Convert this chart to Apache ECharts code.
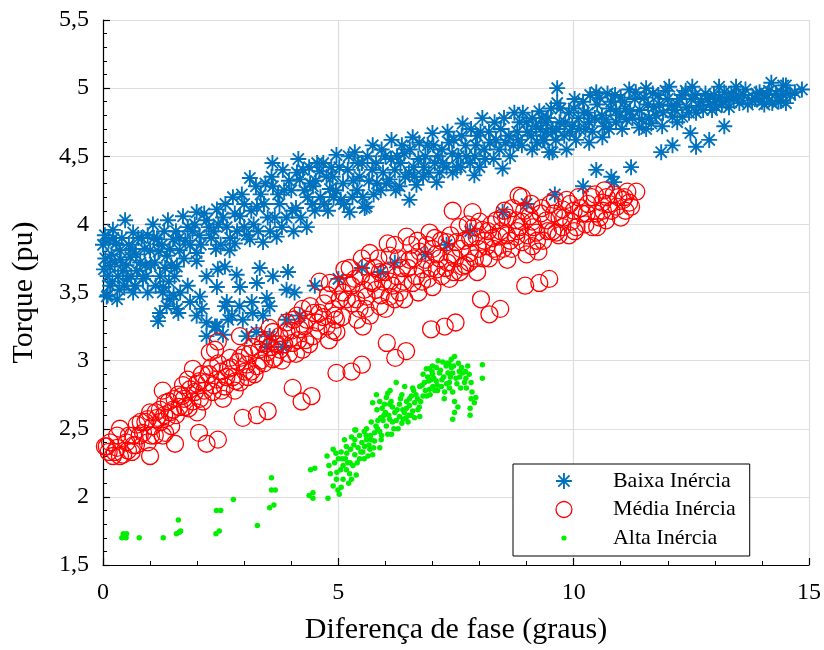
<!DOCTYPE html>
<html>
<head>
<meta charset="utf-8">
<script src="https://cdn.jsdelivr.net/npm/echarts@6/dist/echarts.min.js"></script>
<style>
html,body{margin:0;padding:0;background:#fff;}
#chart{width:824px;height:650px;}
</style>
</head>
<body>
<div id="chart"></div>
<script>
var seriesNames = ['Baixa Inércia', 'Média Inércia', 'Alta Inércia'];
var xAxisTitle = 'Diferença de fase (graus)';
var yAxisTitle = 'Torque (pu)';
var xTicks = [0, 5, 10, 15];
var yTicks = [1.5, 2, 2.5, 3, 3.5, 4, 4.5, 5, 5.5];

var baixaInercia = [
[0.02,3.67],[0.04,3.92],[0.1,3.48],[0.08,3.47],[0.15,3.69],[0.21,3.96],[0.3,3.45],[0.36,3.81],[0.47,4.03],[0.64,3.94],[0.64,3.5],[0.79,3.72],[0.85,3.6],[1.0,3.81],[1.06,4.0],[1.15,3.89],[1.21,3.62],[1.36,3.77],[1.38,4.03],[1.49,3.89],[1.57,3.69],[1.63,3.81],[1.7,4.06],[1.8,3.98],[1.99,3.79],[1.99,4.09],[1.99,3.73],
[0.05,3.75],[0.12,3.88],[0.2,3.58],[0.25,3.72],[0.32,3.62],[0.4,3.9],[0.45,3.55],[0.5,3.7],[0.55,3.85],[0.6,3.62],[0.7,3.78],[0.75,3.9],[0.9,3.7],[0.95,3.92],[1.1,3.72],[1.25,3.85],[1.3,3.95],[1.45,3.7],[1.55,3.95],[1.75,3.88],[1.9,3.95],[0.0,3.85],[0.18,3.78],[0.28,3.86],[0.42,3.66],[0.58,3.76],[0.68,3.55],[0.88,3.82],[1.12,3.55],[1.4,3.58],[0.35,3.52],[0.95,3.5],
[0.1,3.62],[0.22,3.9],[0.38,3.74],[0.52,3.6],[0.62,3.82],[0.72,3.66],[0.82,3.9],[0.92,3.62],[1.02,3.7],[1.08,3.9],[1.18,3.8],[1.32,3.68],[1.42,3.82],[1.52,3.62],[1.62,3.9],[1.72,3.75],[1.85,3.85],[1.95,4.0],[2.08,3.85],[0.15,3.55],
[1.17,3.29],[1.21,3.35],[1.6,3.35],[1.99,3.33],[1.64,3.5],[1.28,3.54],[2.2,3.18],[2.38,3.25],[2.55,3.19],[2.66,3.3],[2.97,3.3],[3.05,3.18],[3.4,3.33],[3.26,3.21],[3.54,3.18],[3.9,3.3],[4.18,3.33],[3.82,3.1],[3.48,3.1],[2.59,3.4],[2.9,3.4],[3.33,3.68],[3.93,3.65],[3.61,3.62],[2.84,3.63],[3.27,3.57],[2.91,3.54],[2.44,3.67],[2.59,3.69],[2.2,3.62],[2.42,3.54],[2.06,3.47],[1.85,3.43],[1.57,3.38],[1.42,3.45],[1.27,3.5],[3.9,3.52],[4.07,3.5],[3.48,3.46],[3.16,3.43],[3.54,3.4],[3.18,3.35],[2.63,3.43],[2.74,3.33],[2.2,3.28],[2.42,3.25],[1.8,3.55],[1.5,3.48],[1.35,3.4],[2.1,3.38],
[2.2,4.03],[2.42,4.11],[2.63,3.98],[2.76,4.2],[2.91,4.06],[3.12,4.34],[3.27,4.13],[3.61,4.28],[3.82,4.4],[4.18,4.33],[4.46,4.28],[4.6,4.39],[4.82,4.26],[4.96,4.51],[4.33,3.98],[3.69,3.91],[3.4,3.87],[3.12,3.89],[2.69,3.81],[2.3,3.9],[2.5,3.85],[2.55,4.05],[2.85,3.95],[3.0,4.15],[3.2,4.0],[3.35,4.22],[3.5,4.05],[3.55,3.95],[3.75,4.15],[3.9,4.05],[4.0,4.25],[4.1,4.12],[4.25,4.4],[4.35,4.2],[4.5,4.1],[4.55,4.45],[4.7,4.15],[4.75,4.35],[4.9,4.2],[4.85,4.42],[3.0,3.98],[3.45,4.3],[4.05,3.95],[2.35,3.95],[2.05,3.92],[2.15,4.08],[3.85,4.25],[4.4,4.3],
[2.25,3.98],[2.45,4.0],[2.6,4.15],[2.7,3.9],[2.8,4.08],[2.95,4.22],[3.05,3.92],[3.15,4.1],[3.25,4.28],[3.3,3.95],[3.42,4.15],[3.58,4.35],[3.65,4.05],[3.72,4.22],[3.8,3.98],[3.95,4.32],[4.02,4.1],[4.12,4.38],[4.2,4.05],[4.28,4.25],[4.38,4.42],[4.45,4.15],[4.52,4.32],[4.62,4.2],[4.68,4.45],[4.78,4.1],[4.88,4.35],[4.95,4.25],[2.4,3.82],[2.8,3.86],[3.6,4.45],[4.15,4.48],
[5.24,4.09],[5.56,4.12],[5.35,4.53],[5.73,4.58],[6.13,4.62],[6.58,4.64],[7.0,4.67],[7.64,4.74],[8.06,4.78],[8.74,4.82],[9.27,4.83],[9.65,5.0],[9.65,4.89],[7.43,4.38],[7.89,4.36],[8.49,4.41],[9.12,4.55],[9.48,4.53],[7.09,4.31],[6.66,4.29],[6.09,4.33],[5.6,4.13],[6.51,4.18],
[5.1,4.3],[5.2,4.4],[5.4,4.25],[5.5,4.45],[5.65,4.32],[5.8,4.45],[5.9,4.25],[6.0,4.5],[6.2,4.4],[6.3,4.28],[6.4,4.52],[6.5,4.38],[6.7,4.48],[6.8,4.35],[6.9,4.58],[7.05,4.45],[7.2,4.55],[7.3,4.42],[7.45,4.62],[7.55,4.5],[7.7,4.58],[7.8,4.45],[7.95,4.65],[8.1,4.55],[8.2,4.68],[8.3,4.48],[8.45,4.7],[8.55,4.6],[8.65,4.5],[8.8,4.68],[8.9,4.58],[9.0,4.75],[9.1,4.65],[9.2,4.72],[9.35,4.62],[9.45,4.78],[9.55,4.68],[9.7,4.75],[9.8,4.65],[9.9,4.82],[5.05,4.18],[5.45,4.35],[5.95,4.38],[6.35,4.58],[6.85,4.5],[7.35,4.6],[7.9,4.5],[8.35,4.62],[8.85,4.75],[9.3,4.7],[6.6,4.42],[7.15,4.38],[7.6,4.42],[8.0,4.42],[5.75,4.22],[6.25,4.5],[5.3,4.2],
[5.02,4.42],[5.12,4.15],[5.22,4.5],[5.32,4.32],[5.42,4.45],[5.52,4.2],[5.62,4.5],[5.72,4.4],[5.82,4.3],[5.92,4.55],[6.02,4.3],[6.12,4.48],[6.22,4.25],[6.32,4.45],[6.42,4.35],[6.52,4.55],[6.62,4.35],[6.72,4.6],[6.82,4.42],[6.92,4.38],[7.02,4.58],[7.12,4.5],[7.22,4.45],[7.32,4.68],[7.42,4.52],[7.52,4.42],[7.62,4.65],[7.72,4.5],[7.82,4.7],[7.92,4.58],[8.02,4.68],[8.12,4.48],[8.22,4.6],[8.32,4.75],[8.42,4.55],[8.52,4.78],[8.62,4.65],[8.72,4.58],[8.82,4.62],[8.92,4.82],[9.02,4.68],[9.12,4.78],[9.22,4.6],[9.32,4.78],[9.42,4.68],[9.52,4.85],[9.62,4.62],[9.72,4.85],[9.82,4.75],[9.92,4.68],
[10.48,4.97],[10.72,4.96],[11.18,4.99],[11.54,5.0],[12.03,5.01],[12.52,5.01],[13.09,5.01],[13.45,5.01],[14.2,5.04],[14.51,5.02],[14.85,4.99],[13.88,4.96],[13.52,4.89],[13.79,4.91],[14.22,4.89],[14.51,4.89],[14.43,4.96],[13.03,4.86],[12.6,4.82],[12.1,4.79],[11.6,4.78],[11.12,4.77],[10.69,4.77],[10.33,4.75],[9.97,4.72],[9.63,4.7],[9.42,4.75],[9.38,4.62],[9.55,4.53],[10.33,4.6],[10.61,4.64],[11.03,4.7],[11.39,4.71],[11.54,4.7],[11.88,4.72],[12.31,4.79],[12.94,4.84],[13.24,4.91],
[10.0,4.85],[10.1,4.78],[10.2,4.9],[10.3,4.82],[10.4,4.68],[10.5,4.88],[10.6,4.8],[10.8,4.9],[10.9,4.83],[11.0,4.93],[11.1,4.85],[11.3,4.92],[11.4,4.84],[11.5,4.93],[11.7,4.86],[11.8,4.95],[11.9,4.82],[12.0,4.92],[12.2,4.88],[12.3,4.95],[12.4,4.86],[12.5,4.92],[12.7,4.9],[12.8,4.96],[12.9,4.88],[13.1,4.93],[13.2,4.97],[13.3,4.86],[13.6,4.95],[13.7,4.88],[14.0,4.9],[14.1,4.95],[14.3,4.96],[14.4,4.91],[14.6,4.95],[10.05,4.62],[10.25,4.7],[10.75,4.7],[11.25,4.78],[11.75,4.8],[12.15,4.84],[12.65,4.87],[13.4,4.92],[10.9,4.75],[9.85,4.55],
[10.02,4.92],[10.12,4.7],[10.22,4.82],[10.35,4.95],[10.45,4.78],[10.55,4.93],[10.65,4.72],[10.78,4.85],[10.88,4.95],[10.98,4.8],[11.08,4.9],[11.2,4.83],[11.32,4.97],[11.45,4.77],[11.58,4.88],[11.68,4.96],[11.82,4.88],[11.95,4.98],[12.08,4.87],[12.25,4.92],[12.38,4.98],[12.45,4.82],[12.58,4.95],[12.75,4.84],[12.85,4.92],[12.98,4.95],[13.15,4.88],[13.35,4.96],[13.5,4.94],[13.65,4.99],[13.85,4.92],[13.95,4.97],[14.05,4.88],[14.15,4.98],[14.35,4.9],[14.45,5.02],[14.7,4.97],[12.2,4.75],[11.65,4.74],[13.0,4.9],
[13.2,4.72],[12.48,4.67],[12.88,4.62],[12.6,4.57],[12.1,4.58],[11.86,4.53],[11.22,4.42],[10.48,4.4],[10.86,4.31],
[4.5,3.55],[5.0,3.6],[5.5,3.68],[5.9,3.65],[6.2,3.72],[6.85,3.78],[7.3,3.85],[7.8,3.95],[8.49,4.09],[9.0,4.15],[9.6,4.22],[10.2,4.28],[10.8,4.35]
];

var mediaInercia = [
[0.04,2.37],[0.08,2.37],[0.21,2.3],[0.36,2.3],[0.43,2.31],[0.53,2.34],[0.61,2.33],[0.3,2.45],[0.36,2.5],[0.64,2.45],[0.72,2.53],[0.85,2.47],[0.95,2.57],[1.06,2.52],[1.21,2.64],[1.27,2.45],[1.36,2.58],[1.32,2.69],[1.49,2.64],[1.68,2.74],[1.74,2.66],[1.85,2.79],[1.8,2.86],[1.99,2.83],[2.06,2.72],[1.91,2.94],[2.2,2.84],[2.33,2.77],[2.42,2.86],[2.55,2.72],[2.59,2.81],[2.38,3.08],[2.27,3.06],[2.66,2.94],[2.76,2.88],[2.91,2.84],[2.87,2.99],[3.05,2.97],[3.08,2.88],[3.27,2.96],[3.18,3.1],[3.4,3.13],[3.48,3.06],[3.61,3.01],[3.76,3.08],[3.9,3.21],[4.03,3.13],[4.18,3.23],[4.33,3.3],[4.46,3.18],[4.24,3.08],[4.6,3.35],[4.75,3.25],[4.89,3.38],[3.27,3.18],[3.61,3.21],[2.44,3.14],[2.91,3.18],[3.54,3.24],[3.9,3.28],[4.12,3.33],[4.6,3.58],[4.82,3.57],[5.13,3.67],[4.24,3.38],
[0.15,2.4],[0.5,2.4],[0.7,2.38],[0.8,2.55],[1.0,2.62],[1.1,2.45],[1.15,2.58],[1.4,2.7],[1.55,2.6],[1.6,2.75],[1.7,2.82],[1.9,2.7],[2.1,2.9],[2.15,2.78],[2.3,2.95],[2.5,2.92],[2.7,3.02],[2.8,2.78],[3.0,3.05],[3.15,2.92],[3.35,3.0],[3.5,3.15],[3.7,3.12],[3.8,3.0],[4.0,3.22],[4.1,3.05],[4.3,3.15],[4.4,3.4],[4.55,3.28],[4.7,3.42],[4.8,3.15],[4.95,3.3],[0.25,2.33],[0.95,2.4],[1.45,2.52],[2.0,2.62],
[0.12,2.33],[0.3,2.36],[0.55,2.45],[0.65,2.38],[0.78,2.45],[0.9,2.55],[1.02,2.45],[1.12,2.62],[1.22,2.55],[1.3,2.6],[1.42,2.62],[1.52,2.72],[1.62,2.66],[1.72,2.72],[1.82,2.65],[1.95,2.77],[2.05,2.85],[2.12,2.7],[2.25,2.9],[2.35,2.82],[2.45,2.98],[2.52,2.78],[2.62,2.88],[2.72,2.95],[2.82,2.85],[2.92,3.02],[3.02,2.92],[3.12,3.05],[3.22,2.9],[3.32,3.08],[3.42,2.98],[3.55,3.1],[3.65,3.02],[3.75,3.18],[3.85,3.12],[3.95,3.05],[4.05,3.3],[4.15,3.15],[4.28,3.25],[4.38,3.12],[4.48,3.35],[4.58,3.22],[4.68,3.32],[4.78,3.48],[4.88,3.22],[4.98,3.55],
[1.0,2.3],[1.53,2.39],[1.32,2.47],[2.2,2.39],[2.44,2.42],[2.04,2.47],[2.97,2.58],[3.27,2.6],[3.5,2.63],[4.03,2.8],[4.22,2.7],[4.43,2.74],[1.27,2.78],[4.96,2.91],[5.28,2.92],[5.5,2.97],[6.03,3.13],[6.21,3.02],[6.44,3.07],[6.97,3.23],[7.26,3.25],[7.49,3.28],[8.03,3.45],[8.21,3.34],[8.44,3.38],[8.97,3.55],[9.27,3.57],[9.48,3.6],
[5.24,3.68],[5.2,3.57],[5.03,3.45],[4.92,3.33],[4.96,3.21],[5.52,3.25],[5.45,3.38],[5.6,3.47],[5.73,3.57],[5.6,3.69],[5.67,3.79],[6.05,3.86],[6.09,3.77],[5.88,3.65],[6.24,3.62],[6.45,3.91],[6.51,3.74],[6.58,3.57],[6.3,3.5],[6.09,3.47],[5.88,3.4],[5.67,3.33],[6.94,3.94],[7.0,3.82],[7.09,3.67],[7.0,3.54],[7.36,3.6],[7.32,3.72],[7.3,3.87],[6.79,3.67],[6.73,3.8],[7.75,4.0],[7.85,4.09],[7.94,3.91],[7.79,3.79],[7.64,3.69],[7.51,3.87],[7.57,3.98],[8.15,3.84],[8.06,3.96],[8.36,4.03],[8.42,3.91],[8.59,3.74],[8.53,4.1],[8.78,4.03],[8.78,3.91],[9.06,4.06],[9.12,3.84],[9.21,3.94],[9.42,4.03],[9.63,3.94],[9.76,4.11],[10.06,3.98],[10.18,4.08],[10.48,4.08],[10.61,4.16],[10.91,4.13],[11.18,4.16],[10.69,4.03],[10.4,3.98],[9.76,3.98],[8.91,3.87],[7.43,4.1],[8.83,4.21],[11.14,4.24],[11.22,4.13],[11.33,4.24],[11.08,4.2],
[5.1,3.5],[5.3,3.42],[5.35,3.6],[5.4,3.3],[5.5,3.75],[5.55,3.52],[5.8,3.52],[5.85,3.75],[5.95,3.58],[6.0,3.38],[6.15,3.55],[6.2,3.85],[6.35,3.68],[6.4,3.45],[6.55,3.85],[6.65,3.62],[6.7,3.5],[6.85,3.74],[6.9,3.6],[7.05,3.9],[7.15,3.75],[7.2,3.62],[7.4,3.78],[7.45,3.65],[7.6,3.82],[7.7,3.7],[7.8,3.9],[7.9,3.75],[8.0,4.02],[8.1,3.88],[8.2,3.75],[8.25,4.0],[8.3,3.82],[8.45,3.95],[8.6,4.05],[8.65,3.88],[8.7,4.12],[8.85,3.98],[8.95,4.1],[9.0,3.78],[9.1,4.15],[9.15,3.98],[9.3,4.08],[9.35,3.88],[9.5,4.15],[9.55,3.95],[9.7,4.05],[9.85,4.18],[9.9,3.92],[10.0,4.1],[10.1,4.2],[10.25,4.0],[10.3,4.15],[10.45,4.22],[10.55,4.05],[10.7,4.2],[10.8,4.1],[10.85,4.22],[11.0,4.05],[11.05,4.18],[9.95,4.02],[9.25,3.8],[8.5,3.82],[7.95,3.65],
[5.08,3.32],[5.18,3.45],[5.28,3.55],[5.38,3.45],[5.48,3.62],[5.58,3.38],[5.68,3.58],[5.78,3.68],[5.9,3.48],[6.0,3.65],[6.1,3.58],[6.2,3.45],[6.28,3.75],[6.38,3.58],[6.48,3.68],[6.6,3.75],[6.68,3.88],[6.78,3.58],[6.88,3.85],[6.98,3.68],[7.08,3.78],[7.18,3.88],[7.28,3.68],[7.38,3.92],[7.48,3.75],[7.58,3.65],[7.68,3.88],[7.78,3.72],[7.88,3.98],[7.98,3.82],[8.08,3.75],[8.18,3.95],[8.28,3.9],[8.38,3.8],[8.48,4.05],[8.58,3.92],[8.68,3.82],[8.8,3.95],[8.9,4.02],[9.02,3.92],[9.12,4.02],[9.22,3.88],[9.32,4.12],[9.45,3.95],[9.58,4.08],[9.68,3.92],[9.8,4.05],[9.92,4.15],[10.02,3.95],[10.15,4.12],[10.28,4.08],[10.38,4.2],[10.5,3.98],[10.62,4.1],[10.75,4.15],[10.95,4.2],[11.1,4.1],[10.65,4.25],[9.6,4.18],[8.9,4.2]
];

var altaInercia = [
[0.43,1.73],[0.40,1.70],[0.49,1.70],[0.50,1.73],[0.77,1.70],[1.28,1.70],[1.60,1.83],[1.56,1.73],[1.65,1.75],[1.62,1.74],[2.41,1.90],[2.50,1.90],[2.77,1.98],[2.40,1.73],[2.47,1.75],[3.28,1.79],[3.58,2.14],[3.58,2.05],[3.66,2.05],[3.54,1.92],[3.63,1.94],[4.41,2.20],[4.50,2.21],[4.38,2.01],[4.46,2.03],[4.46,1.99],[4.78,1.99],
[4.76,2.30],[4.89,2.35],[4.80,2.23],[4.83,2.17],[4.89,2.08],[4.99,2.05],[5.06,2.07],[4.96,2.13],[4.97,2.18],[5.06,2.33],[5.13,2.42],[5.17,2.37],[5.28,2.44],[5.26,2.35],[5.10,2.23],[5.17,2.20],[5.24,2.17],[5.28,2.13],[5.10,2.13],[5.20,2.25],[5.35,2.31],[5.31,2.23],[5.38,2.16],[5.37,2.49],[5.56,2.37],[5.52,2.33],[5.59,2.45],[5.67,2.35],[5.63,2.30],[5.73,2.31],[5.70,2.42],[5.77,2.41],[5.88,2.36],[5.91,2.42],[5.77,2.47],[5.88,2.48],[5.84,2.56],[5.95,2.56],[6.02,2.52],[6.05,2.46],[6.13,2.46],[6.09,2.57],[6.20,2.62],[6.23,2.56],[6.27,2.50],[6.30,2.59],[6.37,2.64],[6.44,2.58],[6.48,2.55],[6.51,2.67],[6.51,2.72],[6.58,2.63],[6.62,2.69],[6.69,2.64],[6.65,2.75],[6.73,2.81],[6.80,2.74],[6.83,2.84],[6.73,2.59],[6.23,2.84],[6.41,2.81],[5.81,2.75],[5.88,2.70],[5.73,2.69],[5.82,2.64],[5.93,2.65],[6.02,2.73],[6.05,2.76],[5.98,2.68],[6.09,2.68],[6.87,2.94],[6.94,2.94],[7.08,2.95],[6.90,2.88],[6.97,2.86],[7.01,2.81],[7.08,2.85],[7.15,2.91],[7.11,2.78],[7.19,2.81],[7.26,2.77],[7.22,2.99],[7.29,2.96],[7.33,2.91],[7.40,3.01],[7.47,3.03],[7.43,2.91],[7.36,2.84],[7.50,2.87],[7.57,2.92],[7.64,2.91],[7.75,2.96],[7.71,2.87],[7.68,2.84],[7.82,2.84],[7.36,2.80],[7.43,2.77],[7.47,2.70],[7.54,2.66],[7.47,2.62],[7.43,2.57],[7.84,2.77],[7.92,2.73],[7.82,2.72],[7.80,2.65],[7.80,2.60],[7.89,2.69],[8.06,2.97],[8.06,2.87],[6.88,2.74],[6.94,2.79],[5.35,2.42],[5.35,2.49],
[5.0,2.28],[5.05,2.2],[5.15,2.28],[5.45,2.28],[5.5,2.4],[5.42,2.36],[5.6,2.5],[5.65,2.38],[5.8,2.52],[6.15,2.55],[6.35,2.54],[6.55,2.6],[6.6,2.78],[6.75,2.7],[6.95,2.75],[7.0,2.9],[7.05,2.78],[7.2,2.86],[7.3,2.83],[7.4,2.95],[7.55,2.98],[7.6,2.8],[7.7,2.92],[6.45,2.7],[6.3,2.68],[6.15,2.66],[6.4,2.62],[5.97,2.6],[6.58,2.8],[6.8,2.9],[7.12,3.0],[7.25,2.72],[4.92,2.25],[5.22,2.1],[5.02,2.02],
[4.95,2.32],[5.08,2.28],[5.18,2.32],[5.25,2.25],[5.33,2.38],[5.4,2.25],[5.48,2.33],[5.55,2.28],[5.6,2.42],[5.68,2.45],[5.75,2.36],[5.83,2.5],[5.9,2.58],[5.92,2.45],[6.0,2.62],[6.07,2.6],[6.12,2.7],[6.18,2.5],[6.25,2.64],[6.32,2.72],[6.38,2.57],[6.45,2.65],[6.5,2.6],[6.55,2.74],[6.62,2.58],[6.68,2.72],[6.72,2.66],[6.78,2.82],[6.85,2.78],[6.92,2.85],[6.99,2.92],[7.03,2.87],[7.1,2.82],[7.17,2.93],[7.24,2.88],[7.31,2.98],[7.38,2.88],[7.45,2.96],[7.52,2.83],[7.58,2.88],[7.62,2.95],[7.72,2.8],[7.78,2.9],[6.1,2.78],[6.35,2.75],[5.7,2.55],[5.55,2.48],[5.45,2.45],[7.0,2.96],[7.35,2.98]
];

var FONT = '"Liberation Serif", "Times New Roman", serif';
var asterisk = 'path://M8,0L8,16M0,8L16,8M2.4,2.4L13.6,13.6M2.4,13.6L13.6,2.4';
var smallDot = 'path://M-8,-8M8,8M0,-2.6A2.6,2.6,0,1,1,0,2.6A2.6,2.6,0,1,1,0,-2.6Z';

var chart = echarts.init(document.getElementById('chart'), null, {renderer: 'canvas'});
chart.setOption({
  animation: false,
  backgroundColor: '#ffffff',
  grid: {left: 103, right: 14, top: 20, bottom: 84, containLabel: false},
  xAxis: {
    type: 'value', min: xTicks[0], max: xTicks[xTicks.length - 1], interval: 5,
    name: xAxisTitle, nameLocation: 'middle', nameGap: 50,
    nameTextStyle: {fontFamily: FONT, fontSize: 30, color: '#000'},
    axisLine: {show: true, onZero: false, lineStyle: {color: '#000', width: 1.2}},
    axisTick: {show: true, inside: true, length: 7, lineStyle: {color: '#000', width: 1.2}},
    minorTick: {show: true, splitNumber: 5, length: 4, lineStyle: {color: '#000', width: 1}},
    splitLine: {show: true, lineStyle: {color: '#dedede', width: 1.2}},
    axisLabel: {fontFamily: FONT, fontSize: 24, color: '#000', margin: 16}
  },
  yAxis: {
    type: 'value', min: yTicks[0], max: yTicks[yTicks.length - 1], interval: 0.5,
    name: yAxisTitle, nameLocation: 'middle', nameGap: 64,
    nameTextStyle: {fontFamily: FONT, fontSize: 30, color: '#000'},
    axisLine: {show: true, onZero: false, lineStyle: {color: '#000', width: 1.2}},
    axisTick: {show: true, inside: true, length: 7, lineStyle: {color: '#000', width: 1.2}},
    minorTick: {show: true, splitNumber: 5, length: 4, lineStyle: {color: '#000', width: 1}},
    splitLine: {show: true, lineStyle: {color: '#dedede', width: 1.2}},
    axisLabel: {fontFamily: FONT, fontSize: 24, color: '#000', margin: 14,
      formatter: function (v) { return String(v).replace('.', ','); }}
  },
  legend: {
    show: true, orient: 'vertical', left: 513, top: 464,
    padding: [6, 14, 7, 42], itemGap: 6.5, itemWidth: 16, itemHeight: 16,
    backgroundColor: '#ffffff', borderColor: '#000', borderWidth: 1,
    textStyle: {fontFamily: FONT, fontSize: 22, color: '#000', lineHeight: 22, padding: [0, 0, 0, 36]},
    selectedMode: false,
    data: [
      {name: seriesNames[0], icon: asterisk, itemStyle: {color: '#0072BD', borderColor: '#0072BD', borderWidth: 1.9}},
      {name: seriesNames[1], icon: 'circle', itemStyle: {color: 'rgba(0,0,0,0)', borderColor: '#ff0000', borderWidth: 1.3}},
      {name: seriesNames[2], icon: smallDot, itemStyle: {color: '#00ee00', borderWidth: 0}}
    ]
  },
  series: [
    {name: seriesNames[0], type: 'scatter', data: baixaInercia, symbol: asterisk, symbolSize: 16, silent: true,
     itemStyle: {color: '#0072BD', borderColor: '#0072BD', borderWidth: 1.9, opacity: 1}},
    {name: seriesNames[1], type: 'scatter', data: mediaInercia, symbol: 'circle', symbolSize: 17, silent: true,
     itemStyle: {color: 'rgba(0,0,0,0)', borderColor: '#ff0000', borderWidth: 1.3, opacity: 1}},
    {name: seriesNames[2], type: 'scatter', data: altaInercia, symbol: 'circle', symbolSize: 5.5, silent: true,
     itemStyle: {color: '#00ee00', opacity: 1}}
  ]
});
</script>
</body>
</html>
